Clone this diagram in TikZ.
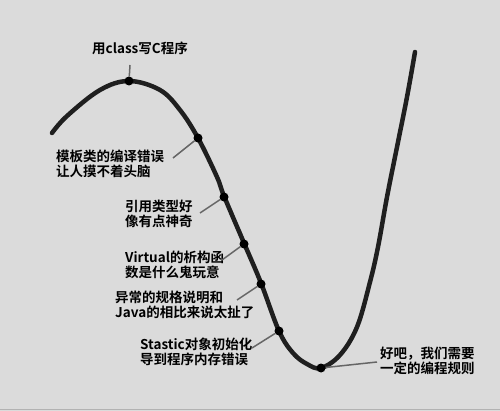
\documentclass[tikz,border=0pt]{standalone}
\usepackage{fontspec}
\setmainfont{Noto Sans CJK SC}[BoldFont={Noto Sans CJK SC Bold}]
\begin{document}
\begin{tikzpicture}[x=1pt,y=-1pt,
  dot/.style={circle,fill=black,inner sep=0pt,minimum size=9pt},
  lbl/.style={anchor=north west,align=left,inner sep=0pt,font=\fontsize{13.5}{14.5}\selectfont\bfseries},
  leader/.style={draw=black!60,line width=1.5pt}]
\fill[black!14] (0,0) rectangle (500,411);
\useasboundingbox (0,0) rectangle (500,411);
\draw[black!30,line width=1pt] (0,409.5) -- (500,409.5);
\draw[black!88,line width=4.5pt,line cap=round] plot[smooth,tension=0.6] coordinates {
 (52,133) (67,116) (100,90) (129,81) (160,90) (180,110) (198,138) (217,177)
 (224,196) (244,243) (261,283) (279,331) (293,353) (307,364) (321,368) (340,355) (357,327)
 (370,282) (378,247) (387,197) (397,147) (407,97) (415,52)};
\node[dot] (d1) at (129,81) {};
\node[dot] (d2) at (198,138) {};
\node[dot] (d3) at (224,197) {};
\node[dot] (d4) at (244,244) {};
\node[dot] (d5) at (261,284) {};
\node[dot] (d6) at (279,331) {};
\node[dot] (d7) at (321,368) {};
\node[lbl] (t1) at (92,42) {用class写C程序};
\node[lbl] (t2) at (56,150) {模板类的编译错误\\让人摸不着头脑};
\node[lbl] (t3) at (125,200) {引用类型好\\像有点神奇};
\node[lbl] (t4) at (125,251) {Virtual的析构函\\数是什么鬼玩意};
\node[lbl] (t5) at (115,291) {异常的规格说明和\\Java的相比来说太扯了};
\node[lbl] (t6) at (140,338) {Stastic对象初始化\\导到程序内存错误};
\node[lbl] (t7) at (380,347) {好吧，我们需要\\一定的编程规则};
\coordinate (e1) at (130,65);
\coordinate (e2) at (173,158);
\coordinate (e3) at (200,213);
\coordinate (e4) at (222,260);
\coordinate (e5) at (237,300);
\coordinate (e6) at (252,348);
\coordinate (e7) at (377,362);
\draw[leader] (d1) -- (e1);
\draw[leader] (d2) -- (e2);
\draw[leader] (d3) -- (e3);
\draw[leader] (d4) -- (e4);
\draw[leader] (d5) -- (e5);
\draw[leader] (d6) -- (e6);
\draw[leader] (d7) -- (e7);
\end{tikzpicture}
\end{document}
